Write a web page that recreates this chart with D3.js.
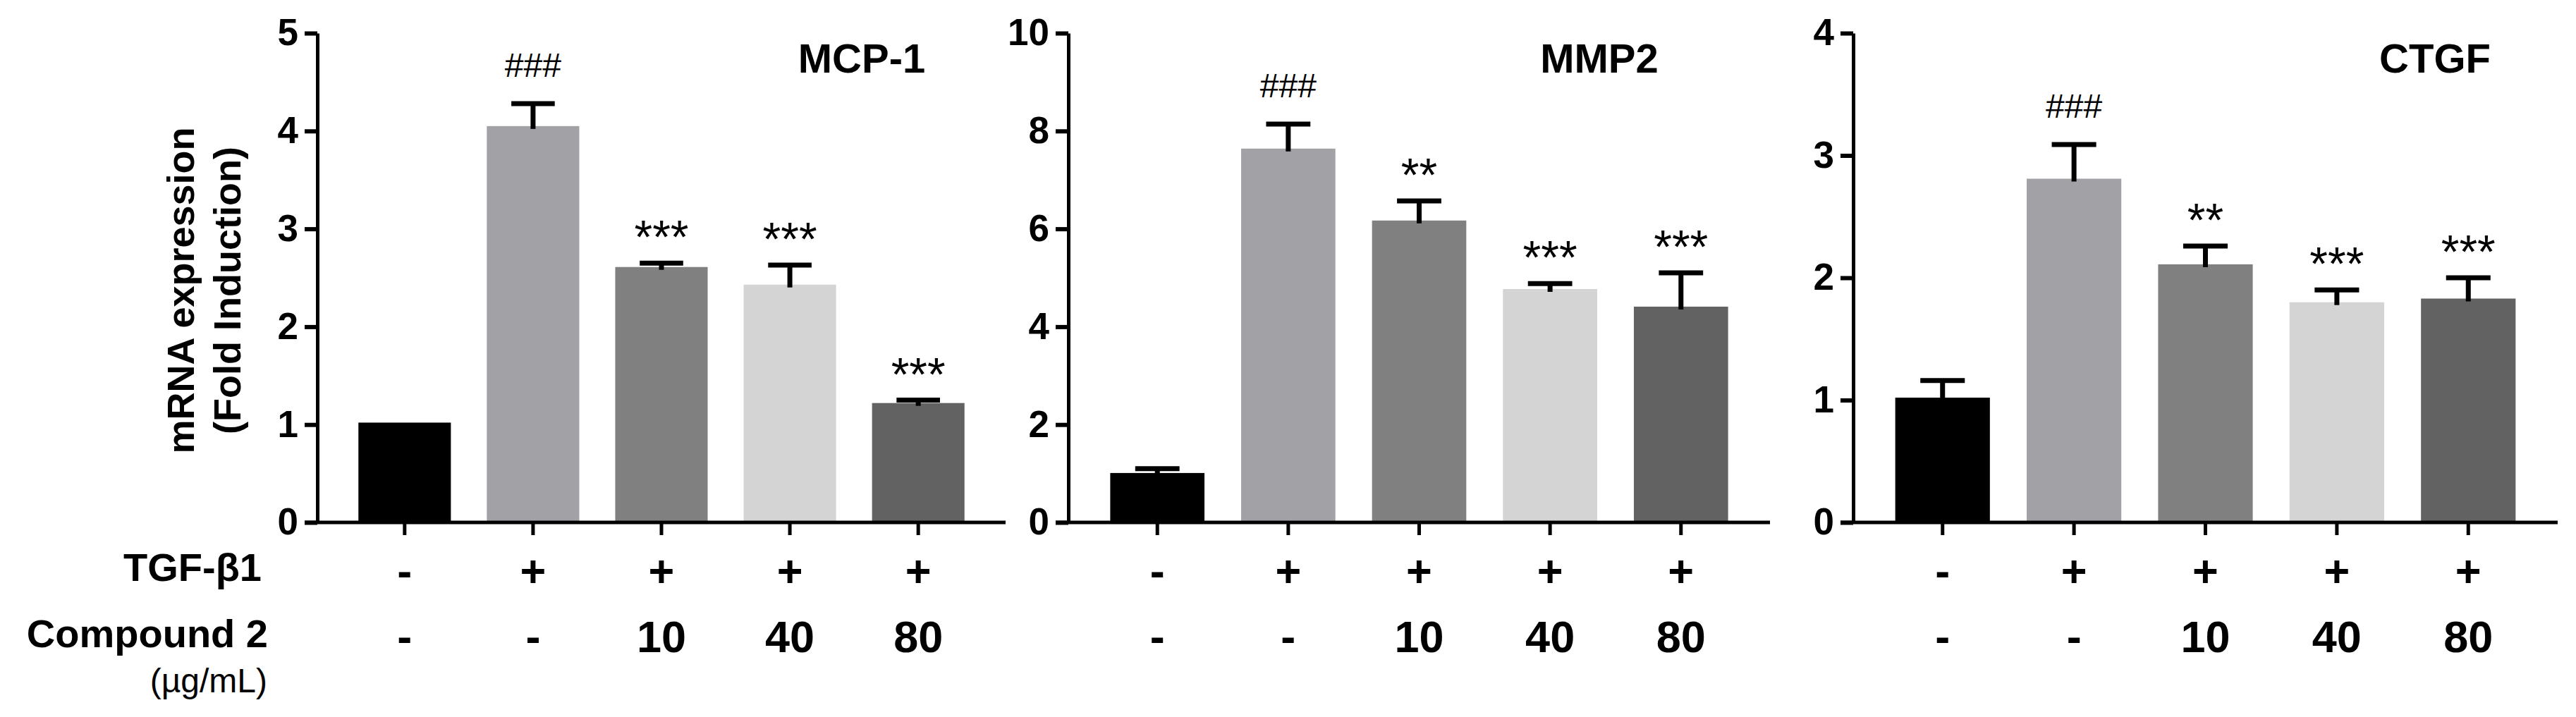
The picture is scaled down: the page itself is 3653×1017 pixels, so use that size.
<!DOCTYPE html>
<html>
<head>
<meta charset="utf-8">
<script src="https://cdn.jsdelivr.net/npm/d3@7"></script>
<style>
  body { margin: 0; background: #fff; }
  text { font-family: "Liberation Sans", Arial, sans-serif; fill: #000; }
</style>
</head>
<body>
<div id="chart"></div>
<script>
// groups (treatments) and the rows printed under the x axis
const groups = ["ctrl", "tgf", "c10", "c40", "c80"];
const tgfRow = ["-", "+", "+", "+", "+"];
const compoundRow = ["-", "-", "10", "40", "80"];
const barColours = ["#000000", "#a2a1a6", "#808080", "#d4d4d4", "#626262"];

// MCP-1
const mcpMean = [1.02, 4.05, 2.61, 2.43, 1.22];
const mcpErr = [0, 0.23, 0.04, 0.20, 0.03];
const mcpSig = ["", "###", "***", "***", "***"];
const mcpTicks = [0, 1, 2, 3, 4, 5];

// MMP2
const mmpMean = [1.01, 7.64, 6.17, 4.77, 4.41];
const mmpErr = [0.09, 0.50, 0.40, 0.11, 0.69];
const mmpSig = ["", "###", "**", "***", "***"];
const mmpTicks = [0, 2, 4, 6, 8, 10];

// CTGF
const ctgfMean = [1.02, 2.81, 2.11, 1.80, 1.83];
const ctgfErr = [0.14, 0.28, 0.15, 0.10, 0.17];
const ctgfSig = ["", "###", "**", "***", "***"];
const ctgfTicks = [0, 1, 2, 3, 4];

const width = 3653, height = 1017;
const yTop = 47, yBottom = 741;

// layout of the three panels (pixels)
const panels = [
    { title: "MCP-1", mean: mcpMean, err: mcpErr, sig: mcpSig, ticks: mcpTicks, left: 450, right: 1426, titleX: 1222 },
    { title: "MMP2", mean: mmpMean, err: mmpErr, sig: mmpSig, ticks: mmpTicks, left: 1515, right: 2510, titleX: 2268 },
    { title: "CTGF", mean: ctgfMean, err: ctgfErr, sig: ctgfSig, ticks: ctgfTicks, left: 2628, right: 3627, titleX: 3453 }
];

const svg = d3.select("#chart")
    .append("svg")
    .attr("width", width)
    .attr("height", height);

panels.forEach(p => {
    const g = svg.append("g");

    const xScale = d3.scaleBand()
        .domain(groups)
        .range([p.left, p.right])
        .paddingInner(0.28)
        .paddingOuter(0.32);

    const yScale = d3.scaleLinear()
        .domain([0, d3.max(p.ticks)])
        .range([yBottom, yTop]);

    const rows = groups.map((k, i) => ({ key: k, mean: p.mean[i], err: p.err[i], sig: p.sig[i], colour: barColours[i] }));

    // bars
    g.selectAll("rect.bar")
        .data(rows)
        .join("rect")
        .attr("class", "bar")
        .attr("x", d => xScale(d.key))
        .attr("width", xScale.bandwidth())
        .attr("y", d => yScale(d.mean))
        .attr("height", d => yBottom - yScale(d.mean))
        .attr("fill", d => d.colour);

    // error bars (upper only)
    const capW = xScale.bandwidth() * 0.47;
    const errRows = rows.filter(d => d.err > 0);
    g.selectAll("line.err")
        .data(errRows)
        .join("line")
        .attr("class", "err")
        .attr("x1", d => xScale(d.key) + xScale.bandwidth() / 2)
        .attr("x2", d => xScale(d.key) + xScale.bandwidth() / 2)
        .attr("y1", d => yScale(d.mean) + 4)
        .attr("y2", d => yScale(d.mean + d.err))
        .attr("stroke", "#000")
        .attr("stroke-width", 7);
    g.selectAll("line.cap")
        .data(errRows)
        .join("line")
        .attr("class", "cap")
        .attr("x1", d => xScale(d.key) + xScale.bandwidth() / 2 - capW / 2)
        .attr("x2", d => xScale(d.key) + xScale.bandwidth() / 2 + capW / 2)
        .attr("y1", d => yScale(d.mean + d.err))
        .attr("y2", d => yScale(d.mean + d.err))
        .attr("stroke", "#000")
        .attr("stroke-width", 7);

    // significance marks
    g.selectAll("text.sig")
        .data(rows.filter(d => d.sig))
        .join("text")
        .attr("class", "sig")
        .attr("x", d => xScale(d.key) + xScale.bandwidth() / 2)
        .attr("y", d => {
            const top = yScale(d.mean + d.err);
            return d.sig[0] === "#" ? top - 38 : top - 14;
        })
        .attr("text-anchor", "middle")
        .style("font-size", d => d.sig[0] === "#" ? "48px" : "66px")
        .text(d => d.sig);

    // y axis
    const leftAxis = d3.axisLeft(yScale)
        .tickValues(p.ticks)
        .tickFormat(d3.format("d"))
        .tickSizeInner(18)
        .tickSizeOuter(0)
        .tickPadding(9);
    const yAxisG = g.append("g")
        .attr("transform", `translate(${p.left}, 0)`)
        .call(leftAxis);
    yAxisG.select(".domain").attr("stroke-width", 5).attr("stroke", "#000");
    yAxisG.selectAll(".tick line").attr("stroke-width", 6).attr("stroke", "#000");
    yAxisG.selectAll(".tick text")
        .attr("fill", "#000")
        .style("font-size", "53px")
        .style("font-weight", "bold")
        .style("font-family", "'Liberation Sans', Arial, sans-serif");

    // x axis
    const bottomAxis = d3.axisBottom(xScale)
        .tickSizeInner(18)
        .tickSizeOuter(0)
        .tickFormat("");
    const xAxisG = g.append("g")
        .attr("transform", `translate(0, ${yBottom})`)
        .call(bottomAxis);
    xAxisG.select(".domain")
        .attr("d", `M${p.left - 18},0H${p.right}`)
        .attr("stroke-width", 5).attr("stroke", "#000");
    xAxisG.selectAll(".tick line").attr("stroke-width", 5).attr("stroke", "#000");

    // treatment rows under the axis
    g.selectAll("text.tgf")
        .data(groups)
        .join("text")
        .attr("class", "tgf")
        .attr("x", d => xScale(d) + xScale.bandwidth() / 2)
        .attr("y", 832)
        .attr("text-anchor", "middle")
        .style("font-size", "63px")
        .style("font-weight", "bold")
        .text((d, i) => tgfRow[i]);

    g.selectAll("text.cmp")
        .data(groups)
        .join("text")
        .attr("class", "cmp")
        .attr("x", d => xScale(d) + xScale.bandwidth() / 2)
        .attr("y", 925)
        .attr("text-anchor", "middle")
        .style("font-size", "63px")
        .style("font-weight", "bold")
        .text((d, i) => compoundRow[i]);

    // panel title
    g.append("text")
        .attr("x", p.titleX)
        .attr("y", 103)
        .attr("text-anchor", "middle")
        .style("font-size", "58px")
        .style("font-weight", "bold")
        .text(p.title);
});

// y axis title (first panel only)
const yTitle = svg.append("text")
    .attr("transform", "translate(275, 412) rotate(-90)")
    .attr("text-anchor", "middle")
    .style("font-size", "54px")
    .style("font-weight", "bold");
yTitle.append("tspan").attr("x", 0).attr("y", 0).text("mRNA expression");
yTitle.append("tspan").attr("x", 0).attr("y", 66).text("(Fold Induction)");

// row labels
svg.append("text")
    .attr("x", 371).attr("y", 824)
    .attr("text-anchor", "end")
    .style("font-size", "56px").style("font-weight", "bold")
    .text("TGF-β1");
svg.append("text")
    .attr("x", 380).attr("y", 918)
    .attr("text-anchor", "end")
    .style("font-size", "56px").style("font-weight", "bold")
    .text("Compound 2");
svg.append("text")
    .attr("x", 379).attr("y", 982)
    .attr("text-anchor", "end")
    .style("font-size", "48px")
    .text("(µg/mL)");
</script>
</body>
</html>
